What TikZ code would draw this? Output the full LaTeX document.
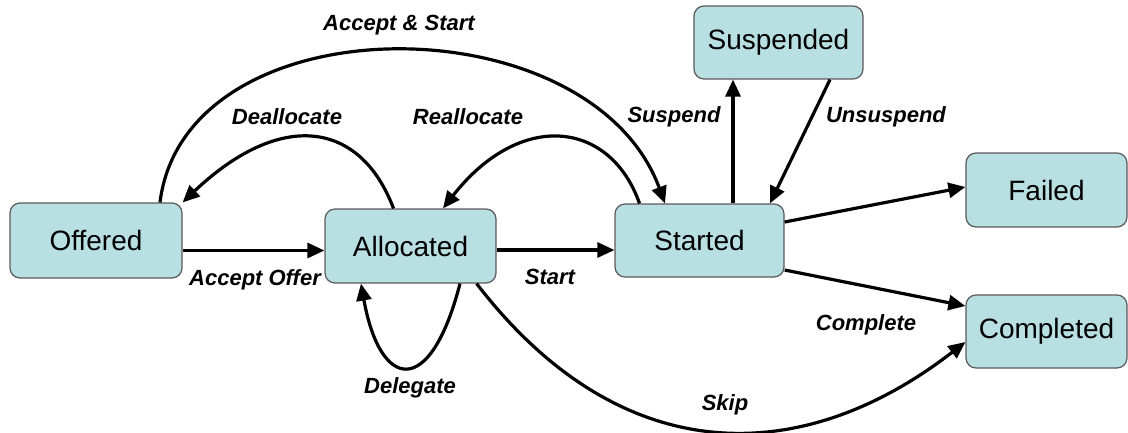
\documentclass[tikz,border=0pt]{standalone}
\usepackage{fontspec}
\setmainfont{Liberation Sans}
\usetikzlibrary{arrows.meta,calc}
\definecolor{boxfill}{HTML}{B8DFE2}
\definecolor{boxline}{HTML}{5A5A5A}
\begin{document}
\begin{tikzpicture}[x=1pt,y=-1pt,
  state/.style={draw=boxline, line width=1.2pt, fill=boxfill, rounded corners=10pt,
    minimum width=170pt, minimum height=74pt, inner sep=0pt,
    font=\fontsize{28}{32}\selectfont},
  tr/.style={line width=3.2pt, -{Triangle[length=17pt,width=15pt]}},
  lbl/.style={font=\fontsize{22}{26}\selectfont\bfseries\itshape}]
\useasboundingbox (0,0) rectangle (1128,432);

\node[state, minimum width=172pt, minimum height=75pt] (off) at (96,240.5) {Offered};
\node[state, minimum width=171pt] (all) at (410.5,246) {Allocated};
\node[state, minimum width=169pt, minimum height=73pt] (sta) at (699.5,240.5) {Started};
\node[state, minimum width=169pt, minimum height=73pt] (sus) at (778.5,42.5) {Suspended};
\node[state, minimum width=161pt] (fai) at (1046.5,190) {Failed};
\node[state, minimum width=161pt, minimum height=73pt] (com) at (1046.5,331.5) {Completed};

% straight transitions
\draw[tr] ($(off.east)+(0,10)$) -- ($(all.west)+(0,4.5)$);
\draw[tr] ($(all.east)+(0,4)$) -- ($(sta.west)+(0,9.5)$);
\draw[tr] ($(sta.north)+(33.5,0)$) -- ($(sus.south)+(-45.5,0)$);
\draw[tr] ($(sus.south)+(51.5,0)$) -- ($(sta.north)+(70.5,0)$);
\draw[tr] ($(sta.east)+(0,-18.5)$) -- ($(fai.west)+(0,-3)$);
\draw[tr] ($(sta.east)+(0,29.5)$) -- ($(com.west)+(0,-25.5)$);

% curved transitions
\draw[tr] ($(off.north)+(64,0)$) .. controls (185,0) and (590,0) .. ($(sta.north)+(-34.5,0)$);
\draw[tr] ($(all.north)+(-17,0)$) .. controls (360,120) and (280,110) .. (off.north east);
\draw[tr] ($(sta.north)+(-60,0)$) .. controls (610,120) and (520,110) .. ($(all.north)+(32.5,0)$);
\draw[tr] ($(all.south)+(49.5,0)$) .. controls (430,400) and (380,390) .. ($(all.south)+(-49.5,0)$);
\draw[tr] ($(all.south east)+(-20,0)$) .. controls (620,470) and (800,470) .. ($(com.west)+(0,10.5)$);

% labels
\node[lbl] (l1) at (255,280) {Accept Offer};
\node[lbl] (l2) at (550,277) {Start};
\node[lbl] (l3) at (399,25) {Accept \& Start};
\node[lbl] (l4) at (287,117) {Deallocate};
\node[lbl] (l5) at (468,117) {Reallocate};
\node[lbl] (l6) at (674,117) {Suspend};
\node[lbl] (l7) at (886,117) {Unsuspend};
\node[lbl] (l8) at (866,325) {Complete};
\node[lbl] (l9) at (410,388) {Delegate};
\node[lbl] (l10) at (725,405) {Skip};
\end{tikzpicture}
\end{document}
